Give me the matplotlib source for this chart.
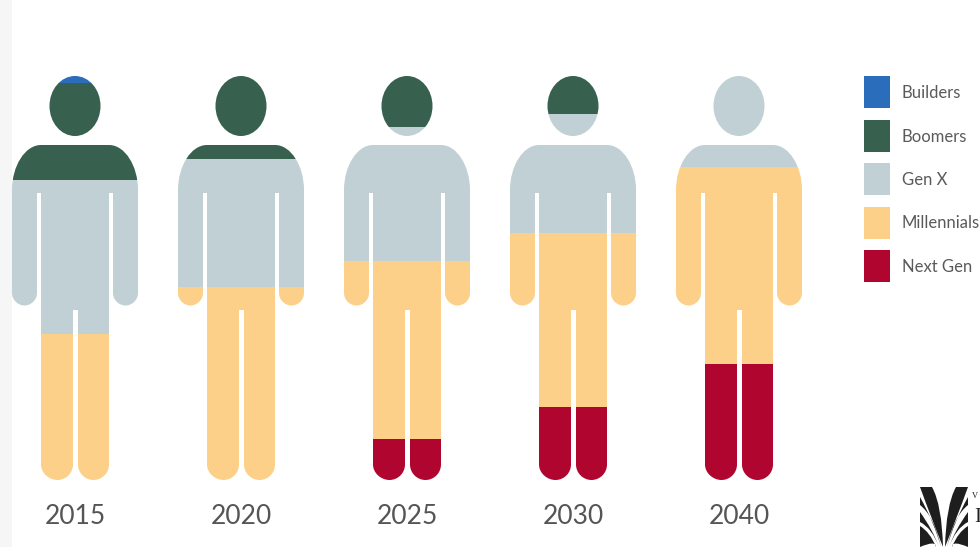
import matplotlib
matplotlib.use("Agg")
import matplotlib.pyplot as plt
from matplotlib.path import Path
from matplotlib.patches import PathPatch, Rectangle

plt.rcParams['font.family'] = ['Lato', 'DejaVu Sans']

years = ['2015', '2020', '2025', '2030', '2040']
generations = ['Builders', 'Boomers', 'Gen X', 'Millennials', 'Next Gen']
builders = [1.7, 0, 0, 0, 0]
boomers = [24.0, 20.5, 12.6, 9.4, 0]
gen_x = [38.1, 31.7, 33.2, 29.5, 22.5]
millennials = [36.2, 47.8, 44.1, 43.0, 48.8]
next_gen = [0, 0, 10.1, 18.1, 28.7]
colors = ['#2A6EBB', '#37614E', '#C1D0D5', '#FDD08A', '#B0052F']

W, H = 980, 547
fig = plt.figure(figsize=(W / 100, H / 100), dpi=100, facecolor='white')
ax = fig.add_axes([0, 0, 1, 1])
TOP, BOT, X0, STEP = 76.0, 480.0, 75.0, 166.0
PX_PER = (BOT - TOP) / 100.0
ax.set_xlim(-X0 / STEP, (W - X0) / STEP)
ax.set_ylim(-(H - BOT) / PX_PER, BOT / PX_PER)
ax.axis('off')


def dx(px):
    return (px - X0) / STEP


def dy(py):
    return (BOT - py) / PX_PER


def silhouette(cx):
    """Person outline, written in pixel offsets from the figure's top-left."""
    k = 0.5523
    v, c = [], []

    def M(x, y):
        v.append((cx + x, y)); c.append(Path.MOVETO)

    def L(x, y):
        v.append((cx + x, y)); c.append(Path.LINETO)

    def B(x1, y1, x2, y2, x3, y3):
        v.extend([(cx + x1, y1), (cx + x2, y2), (cx + x3, y3)])
        c.extend([Path.CURVE4] * 3)

    # head
    rx, ry, hy = 25.5, 30.0, 106.0
    M(0, hy - ry)
    B(rx * k, hy - ry, rx, hy - ry * k, rx, hy)
    B(rx, hy + ry * k, rx * k, hy + ry, 0, hy + ry)
    B(-rx * k, hy + ry, -rx, hy + ry * k, -rx, hy)
    B(-rx, hy - ry * k, -rx * k, hy - ry, 0, hy - ry)
    v.append((cx, hy - ry)); c.append(Path.CLOSEPOLY)

    # body, right side then left side
    M(-34, 145)
    L(34, 145)
    B(50, 145, 63, 166, 63, 190)
    L(63, 293)
    B(63, 300, 57, 305.5, 50.5, 305.5)
    B(44, 305.5, 38, 300, 38, 293)
    L(38, 193)
    L(34, 193)
    L(34, 464.5)
    B(34, 473, 27, 480, 18.5, 480)
    B(10, 480, 3, 473, 3, 464.5)
    L(3, 310)
    L(-2, 310)
    L(-2, 464.5)
    B(-2, 473, -9, 480, -17.5, 480)
    B(-26, 480, -34, 473, -34, 464.5)
    L(-34, 193)
    L(-38, 193)
    L(-38, 293)
    B(-38, 300, -44, 305.5, -50.5, 305.5)
    B(-57, 305.5, -63, 300, -63, 293)
    L(-63, 190)
    B(-63, 166, -50, 145, -34, 145)
    v.append((cx - 34, 145)); c.append(Path.CLOSEPOLY)
    return Path([(dx(x), dy(y)) for x, y in v], c)


# faint paper strip at the left edge
ax.add_patch(Rectangle((dx(0), dy(H)), dx(12) - dx(0), dy(0) - dy(H),
                       fc='#F6F6F6', ec='none', zorder=0))

series = [next_gen, millennials, gen_x, boomers, builders]
series_colors = colors[::-1]
for i, year in enumerate(years):
    shape = PathPatch(silhouette(X0 + STEP * i), fc='none', ec='none',
                      transform=ax.transData)
    ax.add_patch(shape)
    bottom = 0.0
    for vals, col in zip(series, series_colors):
        if vals[i] > 0:
            bars = ax.bar(i, vals[i], bottom=bottom, width=0.85, color=col,
                          linewidth=0, zorder=2)
            bars[0].set_clip_path(shape)
        bottom += vals[i]
    ax.text(i, dy(516), year, ha='center', va='center', fontsize=19,
            color='#555555')

# legend
for j, (name, col) in enumerate(zip(generations, colors)):
    top = 76 + 43.5 * j
    ax.add_patch(Rectangle((dx(863.5), dy(top + 32)), dx(890) - dx(863.5),
                           dy(top) - dy(top + 32), fc=col, ec='none', zorder=2))
    ax.text(dx(901.5), dy(top + 17), name, ha='left', va='center', fontsize=12,
            color='#5A5A5A')


# logo, cropped by the lower right corner
def band(a, b, tip, ctrl_a, ctrl_b, mirror=False):
    pts = [a, ctrl_a, tip, ctrl_b, b, a]
    codes = [Path.MOVETO, Path.CURVE3, Path.CURVE3, Path.CURVE3, Path.CURVE3,
             Path.CLOSEPOLY]
    if mirror:
        pts = [(2 * 944 - x, y) for x, y in pts]
    return Path([(dx(x), dy(y)) for x, y in pts], codes)


bands = [
    ((920, 487), (932, 487), (943, 547), (932, 520), (942, 505)),
    ((920, 497), (920, 505), (941, 547), (934, 522), (934, 516)),
    ((920, 512), (920, 522), (939, 547), (933, 530), (932, 528)),
    ((920, 526), (920, 547), (936, 547), (930, 532), (936, 540)),
]
for a, b, tip, c1, c2 in bands:
    for m in (False, True):
        ax.add_patch(PathPatch(band(a, b, tip, c1, c2, m), fc='#1E1E1E',
                               ec='none', zorder=2))
ax.text(dx(972), dy(496), 'V', fontsize=6, color='#222222', ha='left',
        va='center', fontfamily=['Liberation Serif'])
ax.text(dx(974), dy(518), 'I', fontsize=15, color='#222222', ha='left',
        va='center', fontfamily=['Liberation Serif'])

fig.savefig('out.png', dpi=100, facecolor='white')
